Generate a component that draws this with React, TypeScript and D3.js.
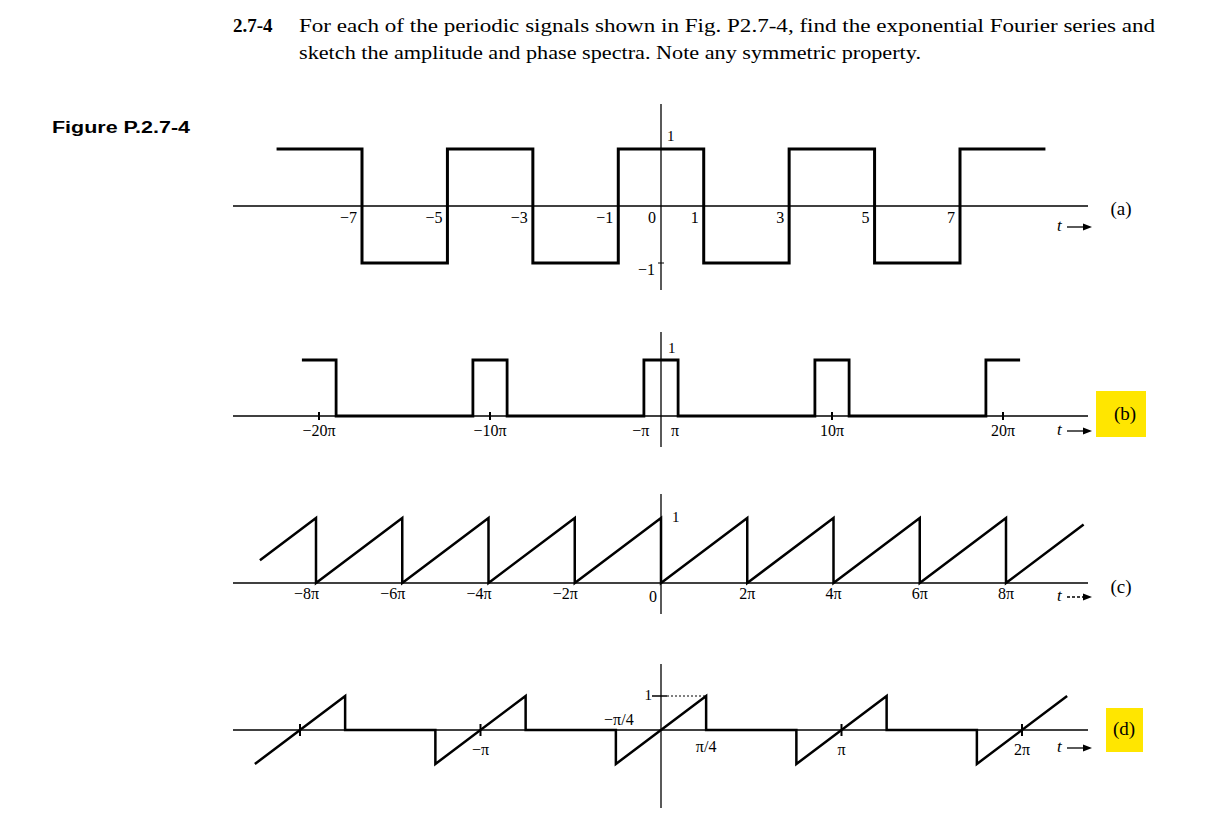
import { useRef, useEffect } from 'react';
import * as d3 from 'd3';

const W = 1231;
const H = 823;

// (a) square wave, t in plain units
const aEdges = [-9, -7, -5, -3, -1, 1, 3, 5, 7, 9];
const aLevels = [1, -1, 1, -1, 1, -1, 1, -1, 1];
const aTicks = [-7, -5, -3, -1, 0, 1, 3, 5, 7];
const aTickLabels = ['−7', '−5', '−3', '−1', '0', '1', '3', '5', '7'];

// (b) pulse train, t in units of pi
const bCenters = [-20, -10, 0, 10, 20];
const bHalfWidth = 1;
const bTicks = [-20, -10, 10, 20];
const bTickLabels = ['−20π', '−10π', '10π', '20π'];
const bEdgeTicks = [-1, 1];
const bEdgeLabels = ['−π', 'π'];

// (c) sawtooth, t in units of pi
const cDrops = [-8, -6, -4, -2, 0, 2, 4, 6, 8];
const cTickLabels = ['−8π', '−6π', '−4π', '−2π', '0', '2π', '4π', '6π', '8π'];
const cStart = -9.3;
const cEnd = 9.8;

// (d) ramp bursts, t in units of pi
const dCenters = [-2, -1, 0, 1, 2];
const dHalfWidth = 0.25;
const dTicks = [-2, -1, 1, 2];
const dTickLabels = [
  { t: -1, label: '−π' },
  { t: 1, label: 'π' },
  { t: 2, label: '2π' },
];

const serif = '"Liberation Serif", "Times New Roman", serif';

export default function App() {
  const svgRef = useRef<SVGSVGElement>(null);

  function renderFigure() {
    const svg = d3.select(svgRef.current);
    svg.selectAll('*').remove();
    svg.attr('width', W).attr('height', H).attr('viewBox', `0 0 ${W} ${H}`);
    svg.append('rect').attr('width', W).attr('height', H).attr('fill', '#fff');

    const cx = 661;
    const axisL = 233;
    const axisR = 1088;

    // header text
    svg.append('text').attr('x', 233).attr('y', 32)
      .attr('font-family', serif).attr('font-size', 19).attr('font-weight', 'bold')
      .text('2.7-4');
    svg.append('text').attr('x', 299).attr('y', 32)
      .attr('font-family', serif).attr('font-size', 19)
      .attr('textLength', 856).attr('lengthAdjust', 'spacingAndGlyphs')
      .text('For each of the periodic signals shown in Fig. P2.7-4, find the exponential Fourier series and');
    svg.append('text').attr('x', 299).attr('y', 59)
      .attr('font-family', serif).attr('font-size', 19)
      .attr('textLength', 622).attr('lengthAdjust', 'spacingAndGlyphs')
      .text('sketch the amplitude and phase spectra. Note any symmetric property.');
    svg.append('text').attr('x', 52).attr('y', 133)
      .attr('font-family', '"Liberation Sans", Arial, sans-serif').attr('font-size', 16)
      .attr('font-weight', 'bold').attr('textLength', 138).attr('lengthAdjust', 'spacingAndGlyphs')
      .text('Figure P.2.7-4');

    const line = d3.line<[number, number]>();

    function drawAxes(y0: number, vTop: number, vBot: number) {
      svg.append('line').attr('x1', axisL).attr('x2', axisR).attr('y1', y0).attr('y2', y0)
        .attr('stroke', '#000').attr('stroke-width', 1.3);
      svg.append('line').attr('x1', cx).attr('x2', cx).attr('y1', vTop).attr('y2', vBot)
        .attr('stroke', '#000').attr('stroke-width', 1.3);
    }

    function tArrow(yBase: number, dashed = false) {
      svg.append('text').attr('x', 1057).attr('y', yBase)
        .attr('font-family', serif).attr('font-style', 'italic').attr('font-size', 17).text('t');
      const ay = yBase - 4;
      svg.append('line').attr('x1', 1067).attr('x2', 1085).attr('y1', ay).attr('y2', ay)
        .attr('stroke', '#000').attr('stroke-width', 1.3)
        .attr('stroke-dasharray', dashed ? '3,2' : null);
      svg.append('path').attr('d', `M1092,${ay}L1083,${ay - 3.5}L1083,${ay + 3.5}Z`).attr('fill', '#000');
    }

    function panelLabel(text: string, x: number, y: number, hl?: [number, number, number, number]) {
      if (hl) {
        svg.append('rect').attr('x', hl[0]).attr('y', hl[1]).attr('width', hl[2] - hl[0])
          .attr('height', hl[3] - hl[1]).attr('fill', '#ffe600');
      }
      svg.append('text').attr('x', x).attr('y', y).attr('text-anchor', 'middle')
        .attr('font-family', serif).attr('font-size', 19).text(text);
    }

    function label(text: string, x: number, y: number, anchor = 'middle', size = 16) {
      svg.append('text').attr('x', x).attr('y', y).attr('text-anchor', anchor)
        .attr('font-family', serif).attr('font-size', size).text(text);
    }

    // ---------- (a) ----------
    const xa = d3.scaleLinear().domain([-7, 7]).range([cx - 299, cx + 299]);
    const ya = d3.scaleLinear().domain([-1, 1]).range([263, 149]);
    drawAxes(ya(0), 104, 290);
    const aPts: [number, number][] = [];
    aLevels.forEach((v, i) => {
      aPts.push([xa(aEdges[i]), ya(v)]);
      aPts.push([xa(aEdges[i + 1]), ya(v)]);
    });
    svg.append('path').attr('d', line(aPts)).attr('fill', 'none').attr('stroke', '#000')
      .attr('stroke-width', 3).attr('stroke-linejoin', 'miter');
    aTicks.forEach((t, i) => label(aTickLabels[i], xa(t) - 5, 223, 'end'));
    label('1', 667, 141, 'start', 15);
    label('−1', 655, 275, 'end', 16);
    svg.append('line').attr('x1', cx - 3).attr('x2', cx + 3).attr('y1', ya(-1)).attr('y2', ya(-1))
      .attr('stroke', '#000').attr('stroke-width', 1);
    tArrow(231);
    panelLabel('(a)', 1121, 215);

    // ---------- (b) ----------
    const xb = d3.scaleLinear().domain([-20, 20]).range([cx - 342, cx + 342]);
    const yb = d3.scaleLinear().domain([0, 1]).range([416, 360]);
    drawAxes(yb(0), 332, 447);
    const bPts: [number, number][] = [];
    bCenters.forEach((c, i) => {
      const l = c - bHalfWidth;
      const r = c + bHalfWidth;
      if (i > 0) bPts.push([xb(l), yb(0)]);
      bPts.push([xb(l), yb(1)]);
      bPts.push([xb(r), yb(1)]);
      if (i < bCenters.length - 1) bPts.push([xb(r), yb(0)]);
    });
    svg.append('path').attr('d', line(bPts)).attr('fill', 'none').attr('stroke', '#000')
      .attr('stroke-width', 2.8);
    bTicks.forEach((t, i) => {
      svg.append('line').attr('x1', xb(t)).attr('x2', xb(t)).attr('y1', yb(0) - 4).attr('y2', yb(0) + 4)
        .attr('stroke', '#000').attr('stroke-width', 2);
      label(bTickLabels[i], xb(t), 436);
    });
    bEdgeTicks.forEach((t, i) => label(bEdgeLabels[i], xb(t) - 3, 436));
    label('1', 668, 353, 'start', 15);
    tArrow(435);
    panelLabel('(b)', 1125, 420, [1096, 391, 1146, 437]);

    // ---------- (c) ----------
    const xc = d3.scaleLinear().domain([-8, 8]).range([cx - 345, cx + 345]);
    const yc = d3.scaleLinear().domain([0, 1]).range([583, 518]);
    drawAxes(yc(0), 494, 614);
    const frac = (t: number) => (((t % 2) + 2) % 2) / 2;
    const cPts: [number, number][] = [[xc(cStart), yc(frac(cStart))]];
    cDrops.forEach((d) => {
      cPts.push([xc(d), yc(1)]);
      cPts.push([xc(d), yc(0)]);
    });
    cPts.push([xc(cEnd), yc(frac(cEnd))]);
    svg.append('path').attr('d', line(cPts)).attr('fill', 'none').attr('stroke', '#000')
      .attr('stroke-width', 2.5);
    cDrops.forEach((d, i) => {
      if (d < 0) label(cTickLabels[i], xc(d) + 3, 599, 'end');
      else if (d === 0) label(cTickLabels[i], xc(d) - 4, 602, 'end');
      else label(cTickLabels[i], xc(d), 599);
    });
    label('1', 672, 522, 'start', 15);
    tArrow(601, true);
    panelLabel('(c)', 1121, 593);

    // ---------- (d) ----------
    const xd = d3.scaleLinear().domain([-2, 2]).range([cx - 361, cx + 361]);
    const yd = d3.scaleLinear().domain([-1, 1]).range([764, 696]);
    drawAxes(yd(0), 664, 808);
    const dPts: [number, number][] = [];
    dCenters.forEach((c, i) => {
      const l = c - dHalfWidth;
      const r = c + dHalfWidth;
      if (i > 0) dPts.push([xd(l), yd(0)]);
      dPts.push([xd(l), yd(-1)]);
      dPts.push([xd(r), yd(1)]);
      if (i < dCenters.length - 1) dPts.push([xd(r), yd(0)]);
    });
    svg.append('path').attr('d', line(dPts)).attr('fill', 'none').attr('stroke', '#000')
      .attr('stroke-width', 2.5);
    dTicks.forEach((t) => {
      svg.append('line').attr('x1', xd(t)).attr('x2', xd(t)).attr('y1', yd(0) - 6).attr('y2', yd(0) + 6)
        .attr('stroke', '#000').attr('stroke-width', 2);
    });
    dTickLabels.forEach((d) => label(d.label, xd(d.t), 755));
    label('−π/4', xd(-dHalfWidth) + 3, 725);
    label('π/4', xd(dHalfWidth), 752);
    label('1', 652, 700, 'end', 15);
    svg.append('line').attr('x1', 652).attr('x2', cx + 6).attr('y1', yd(1)).attr('y2', yd(1))
      .attr('stroke', '#000').attr('stroke-width', 1.5);
    svg.append('line').attr('x1', cx + 6).attr('x2', xd(dHalfWidth)).attr('y1', yd(1)).attr('y2', yd(1))
      .attr('stroke', '#000').attr('stroke-width', 1).attr('stroke-dasharray', '2,2');
    tArrow(752);
    panelLabel('(d)', 1124, 735, [1106, 708, 1143, 752]);
  }

  useEffect(() => {
    renderFigure();
  }, []);

  return <svg ref={svgRef} style={{ position: 'absolute', left: 0, top: 0, display: 'block' }} />;
}
